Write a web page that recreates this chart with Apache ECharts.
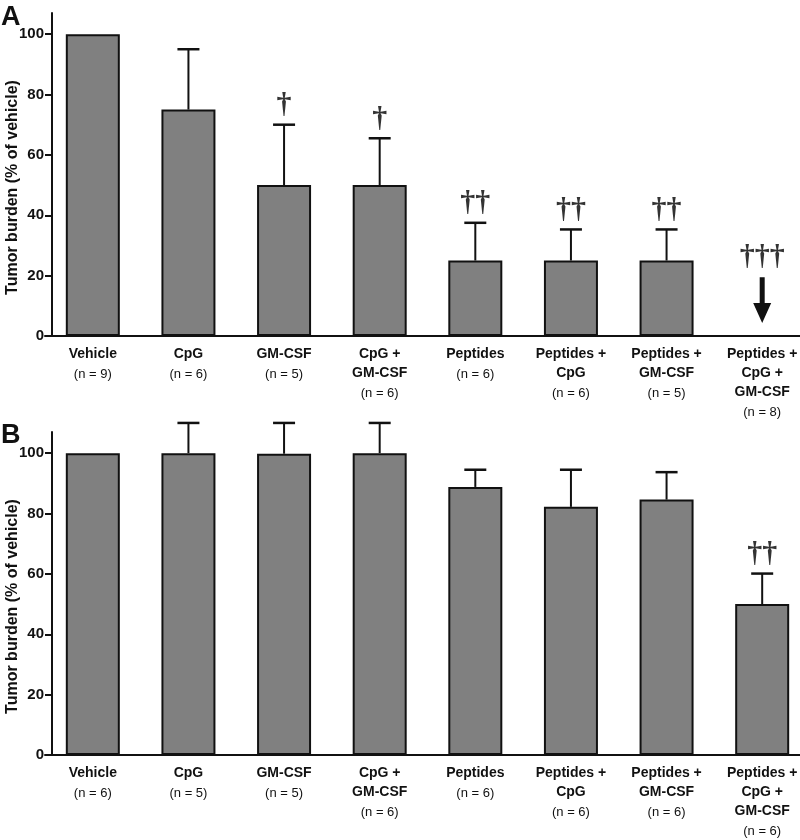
<!DOCTYPE html>
<html>
<head>
<meta charset="utf-8">
<script src="https://cdn.jsdelivr.net/npm/echarts@6/dist/echarts.min.js"></script>
<style>html,body{margin:0;padding:0;background:#fff;}#c{width:800px;height:840px;}</style>
</head>
<body>
<div id="c"></div>
<script>
const categories = ['Vehicle', 'CpG', 'GM-CSF', 'CpG +\nGM-CSF', 'Peptides', 'Peptides +\nCpG', 'Peptides +\nGM-CSF', 'Peptides +\nCpG +\nGM-CSF'];
const nA = [9, 6, 5, 6, 6, 6, 5, 8];
const nB = [6, 5, 5, 6, 6, 6, 6, 6];
const meanA = [100, 75, 50, 50, 25, 25, 25, null];
const errTopA = [null, 95, 70, 65.5, 37.5, 35.3, 35.3, null];
const sigA = ['', '', '†', '†', '††', '††', '††', '†††'];
const arrowA = [[7, 19.5, 4.3]]; // [category, from, to]
const meanB = [100, 100, 99.8, 100, 88.8, 82.2, 84.6, 50];
const errTopB = [null, 110, 110, 110, 94.5, 94.5, 93.7, 60.1];
const sigB = ['', '', '', '', '', '', '', '††'];
const yTicks = [0, 20, 40, 60, 80, 100];

const FONT = 'Liberation Sans, Arial, Helvetica, sans-serif';
const INK = '#111';

function errData(mean, top) {
  const out = [];
  mean.forEach((m, i) => { if (top[i] != null) out.push([i, m, top[i]]); });
  return out;
}
function sigData(top, sig, arrows) {
  const out = [];
  sig.forEach((s, i) => {
    if (!s) return;
    let base = top[i];
    if (base == null) { const a = arrows.find(r => r[0] === i); if (a) base = a[1]; }
    out.push({ value: [i, base], sig: s });
  });
  return out;
}
function errRender(params, api) {
  const x = api.value(0), lo = api.value(1), hi = api.value(2);
  const p0 = api.coord([x, lo]), p1 = api.coord([x, hi]);
  return { type: 'group', children: [
    { type: 'line', shape: { x1: p0[0], y1: p0[1], x2: p1[0], y2: p1[1] }, style: { stroke: INK, lineWidth: 2 } },
    { type: 'line', shape: { x1: p1[0] - 11, y1: p1[1], x2: p1[0] + 11, y2: p1[1] }, style: { stroke: INK, lineWidth: 2.5 } }
  ]};
}
function arrowRender(params, api) {
  const x = api.value(0), from = api.value(1), to = api.value(2);
  const a = api.coord([x, from]), b = api.coord([x, to]);
  const cx = a[0], y0 = a[1], y1 = b[1];
  const headH = 20, headW = 9, shaft = 2.5;
  return { type: 'polygon', shape: { points: [
    [cx - shaft, y0], [cx + shaft, y0], [cx + shaft, y1 - headH], [cx + headW, y1 - headH],
    [cx, y1], [cx - headW, y1 - headH], [cx - shaft, y1 - headH]
  ]}, style: { fill: INK } };
}

function xAxis(gridIndex, ns) {
  return {
    type: 'category', gridIndex, data: categories,
    axisLine: { lineStyle: { color: INK, width: 2 } },
    axisTick: { show: false },
    axisLabel: {
      interval: 0, margin: 9, color: INK,
      formatter: (v, i) => v.split('\n').map(s => '{b|' + s + '}').join('\n') + '\n{n|(n = ' + ns[i] + ')}',
      rich: {
        b: { fontFamily: FONT, fontWeight: 'bold', fontSize: 14, lineHeight: 19, color: INK },
        n: { fontFamily: FONT, fontSize: 13, lineHeight: 20, color: INK }
      }
    }
  };
}
function yAxis(gridIndex) {
  return {
    type: 'value', gridIndex, min: 0, max: 107, offset: -7,
    name: 'Tumor burden (% of vehicle)', nameLocation: 'middle', nameGap: 31, nameMoveOverlap: false,
    nameTextStyle: { fontFamily: FONT, fontWeight: 'bold', fontSize: 16, color: INK, padding: [0, 26, 0, 0] },
    axisLine: { show: true, lineStyle: { color: INK, width: 2 } },
    axisTick: { show: true, length: 7, lineStyle: { color: INK, width: 2 }, customValues: yTicks },
    axisLabel: { fontFamily: FONT, fontWeight: 'bold', fontSize: 15, color: INK, customValues: yTicks },
    splitLine: { show: false }
  };
}
function barSeries(idx, data) {
  return { type: 'bar', xAxisIndex: idx, yAxisIndex: idx, data, barWidth: 54,
    itemStyle: { color: '#808080', borderColor: INK, borderWidth: 2 }, silent: true };
}
function errSeries(idx, mean, top) {
  return { type: 'custom', xAxisIndex: idx, yAxisIndex: idx, data: errData(mean, top), renderItem: errRender, clip: false, silent: true, z: 3 };
}
function sigSeries(idx, top, sig, arrows) {
  return { type: 'scatter', xAxisIndex: idx, yAxisIndex: idx, data: sigData(top, sig, arrows), symbolSize: 1,
    itemStyle: { color: 'rgba(0,0,0,0)' }, silent: true,
    label: { show: true, position: 'top', distance: 4, formatter: p => p.data.sig,
      fontFamily: 'Liberation Serif, Times New Roman, serif', fontWeight: 'bold', fontSize: 30, color: '#000', lineHeight: 30 } };
}

const chart = echarts.init(document.getElementById('c'), null, { renderer: 'canvas' });
chart.setOption({
  animation: false,
  backgroundColor: '#fff',
  grid: [
    { left: 45, width: 765, top: 13, height: 323, outerBoundsMode: 'none', containLabel: false },
    { left: 45, width: 765, top: 432, height: 323, outerBoundsMode: 'none', containLabel: false }
  ],
  xAxis: [xAxis(0, nA), xAxis(1, nB)],
  yAxis: [yAxis(0), yAxis(1)],
  graphic: [
    { type: 'text', left: 1, top: 4, style: { text: 'A', font: 'bold 27px ' + FONT, fill: INK } },
    { type: 'text', left: 1, top: 422, style: { text: 'B', font: 'bold 27px ' + FONT, fill: INK } }
  ],
  series: [
    barSeries(0, meanA), errSeries(0, meanA, errTopA), sigSeries(0, errTopA, sigA, arrowA),
    { type: 'custom', xAxisIndex: 0, yAxisIndex: 0, data: arrowA, renderItem: arrowRender, clip: false, silent: true },
    barSeries(1, meanB), errSeries(1, meanB, errTopB), sigSeries(1, errTopB, sigB, [])
  ]
});
</script>
</body>
</html>
